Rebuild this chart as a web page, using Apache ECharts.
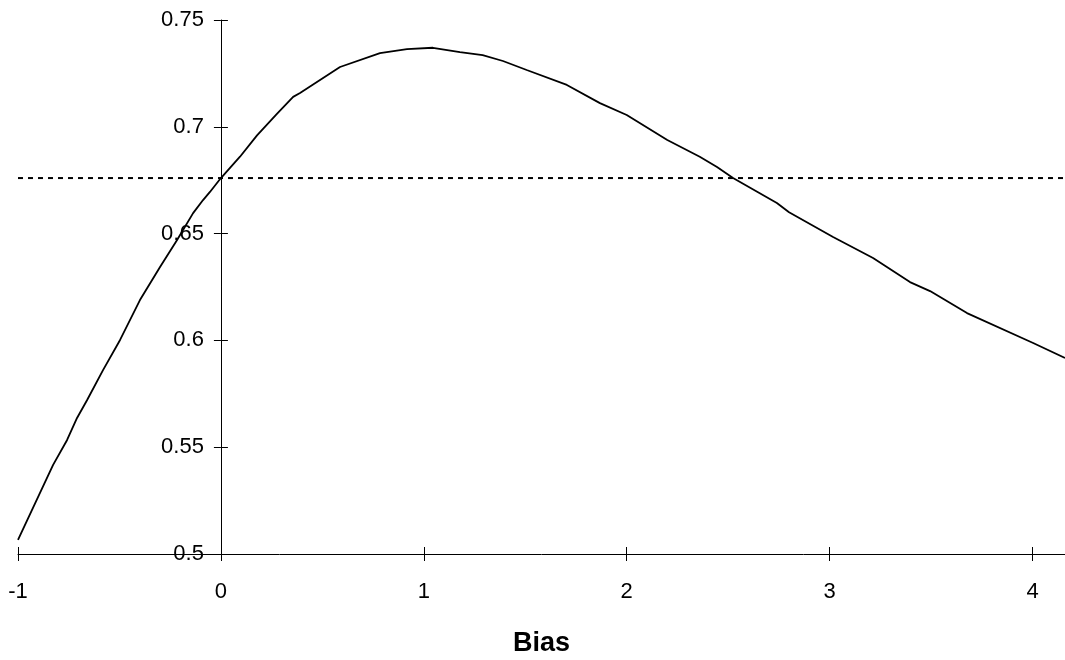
<!DOCTYPE html>
<html>
<head>
<meta charset="utf-8">
<script src="https://cdn.jsdelivr.net/npm/echarts@6/dist/echarts.min.js"></script>
<style>
  html, body { margin: 0; padding: 0; background: #fff; }
  #chart { width: 1065px; height: 660px; }
</style>
</head>
<body>
<div id="chart"></div>
<script>
// values
const biasValues = [-1, -0.827, -0.758, -0.709, -0.66, -0.581, -0.497, -0.399, -0.3, -0.216, -0.137, -0.088, -0.054, 0,
  0.094, 0.178, 0.276, 0.356, 0.39, 0.587, 0.784, 0.917, 1.045, 1.178, 1.29, 1.39, 1.507, 1.705, 1.868, 2.0,
  2.2, 2.36, 2.445, 2.524, 2.74, 2.8, 3.017, 3.214, 3.396, 3.495, 3.677, 4.003, 4.16];
const scoreValues = [0.5066, 0.5417, 0.5534, 0.5637, 0.572, 0.5861, 0.6002, 0.6189, 0.6344, 0.647, 0.6596, 0.6657, 0.6695, 0.676,
  0.686, 0.696, 0.706, 0.714, 0.7158, 0.728, 0.7345, 0.7364, 0.737, 0.735, 0.7336, 0.7308, 0.7266, 0.7196, 0.7111, 0.7055,
  0.6938, 0.686, 0.6812, 0.676, 0.6643, 0.66, 0.6484, 0.6386, 0.6273, 0.6231, 0.6128, 0.5988, 0.5918];
const xTicks = [-1, 0, 1, 2, 3, 4];
const xRange = [-1, 4.16];
const yRange = [0.5, 0.75];
const threshold = 0.676;

const chart = echarts.init(document.getElementById('chart'));
const font = 'Liberation Sans, Arial, sans-serif';

const lineData = biasValues.map((b, i) => [b, scoreValues[i]]);
const thresholdData = xRange.map(x => [x, threshold]);

// plot box
const gridLeft = 18, gridRight = 0, gridTop = 20, gridBottom = 106;
const plotWidth = 1065 - gridLeft - gridRight;
// the y axis crosses at bias = 0, so it gets its own grid starting there
const zeroLeft = gridLeft + plotWidth * (0 - xRange[0]) / (xRange[1] - xRange[0]);

const tickStyle = { color: '#000', width: 1 };

chart.setOption({
  animation: false,
  backgroundColor: '#fff',
  grid: [
    { left: gridLeft, right: gridRight, top: gridTop, bottom: gridBottom, containLabel: false, outerBoundsMode: 'none' },
    { left: zeroLeft, right: gridRight, top: gridTop, bottom: gridBottom, containLabel: false, outerBoundsMode: 'none' }
  ],
  xAxis: [
    {
      type: 'value', gridIndex: 0, position: 'bottom',
      min: xRange[0], max: xRange[1], interval: 1,
      name: 'Bias',
      nameLocation: 'middle',
      nameGap: 76,
      nameTextStyle: { fontFamily: font, fontSize: 27, fontWeight: 'bold', color: '#000' },
      splitLine: { show: false },
      axisLine: { onZero: false, lineStyle: { color: '#000', width: 1 } },
      axisTick: { show: true, length: 7, inside: false, customValues: xTicks, lineStyle: tickStyle },
      axisLabel: { show: true, margin: 27, customValues: xTicks, fontFamily: font, fontSize: 22, color: '#000' }
    },
    {
      type: 'value', gridIndex: 0, position: 'bottom',
      min: xRange[0], max: xRange[1], interval: 1,
      splitLine: { show: false },
      axisLine: { show: false, onZero: false },
      axisTick: { show: true, length: 7, inside: true, customValues: xTicks, lineStyle: tickStyle },
      axisLabel: { show: false }
    },
    {
      type: 'value', gridIndex: 1, position: 'bottom',
      min: 0, max: xRange[1],
      show: false
    }
  ],
  yAxis: [
    {
      type: 'value', gridIndex: 0,
      min: yRange[0], max: yRange[1], interval: 0.05,
      show: false
    },
    {
      type: 'value', gridIndex: 1, position: 'left',
      min: yRange[0], max: yRange[1], interval: 0.05,
      splitLine: { show: false },
      axisLine: { show: true, onZero: false, lineStyle: { color: '#000', width: 1 } },
      axisTick: { show: true, length: 7, inside: false, lineStyle: tickStyle },
      axisLabel: { show: true, margin: 17, fontFamily: font, fontSize: 22, color: '#000' }
    },
    {
      type: 'value', gridIndex: 1, position: 'left',
      min: yRange[0], max: yRange[1], interval: 0.05,
      splitLine: { show: false },
      axisLine: { show: false, onZero: false },
      axisTick: { show: true, length: 7, inside: true, lineStyle: tickStyle },
      axisLabel: { show: false }
    }
  ],
  series: [
    {
      type: 'line',
      xAxisIndex: 0,
      yAxisIndex: 0,
      data: lineData,
      showSymbol: false,
      symbol: 'none',
      lineStyle: { color: '#000', width: 1.8 },
      z: 3
    },
    {
      type: 'line',
      xAxisIndex: 0,
      yAxisIndex: 0,
      data: thresholdData,
      showSymbol: false,
      symbol: 'none',
      lineStyle: { color: '#000', width: 2, type: [5, 5] },
      z: 2
    }
  ]
});
</script>
</body>
</html>
